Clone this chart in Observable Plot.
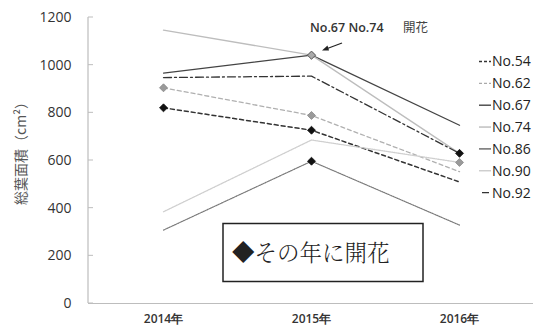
<!DOCTYPE html>
<html><head><meta charset="utf-8">
<script src="https://cdn.jsdelivr.net/npm/d3@7"></script>
<script src="https://cdn.jsdelivr.net/npm/@observablehq/plot@0.6"></script>
<style>body{margin:0;background:#fff} #chart svg{font-family:"Open Sans",sans-serif}</style>
</head><body><div id="chart"></div>
<script>
// ---- data ----
const years = ["2014年", "2015年", "2016年"];
const seriesNames = ["No.54", "No.62", "No.67", "No.74", "No.86", "No.90", "No.92"];
const no54 = [821, 727, 510];
const no62 = [905, 789, 553];
const no67 = [967, 1042, 748];
const no74 = [1147, 1042, 630];
const no86 = [308, 597, 329];
const no90 = [385, 686, 592];
const no92 = [948, 954, 630];
const flowerSeries = ["No.54", "No.54", "No.62", "No.62", "No.67", "No.74", "No.86", "No.90", "No.92"];
const flowerYears  = ["2014年", "2015年", "2014年", "2015年", "2015年", "2015年", "2015年", "2016年", "2016年"];
const yTicks = [0, 200, 400, 600, 800, 1000, 1200];
const yTitle = "総葉面積（cm²）";
const noteText = "No.67 No.74";
const noteText2 = "開花";
const boxText = "◆その年に開花";

// ---- styles ----
const seriesValues = {"No.54": no54, "No.62": no62, "No.67": no67, "No.74": no74, "No.86": no86, "No.90": no90, "No.92": no92};
const styles = {
  "No.54": {stroke: "#333", dash: "4,3", w: 1.5, fill: "#111", mstroke: "#111", leg: "3,2", lstroke: "#333"},
  "No.62": {stroke: "#b0b0b0", dash: "4,3", w: 1.3, fill: "#9a9a9a", mstroke: "#888", leg: "3,2", lstroke: "#aaa"},
  "No.67": {stroke: "#444", dash: null, w: 1.3, fill: "#555", mstroke: "#444", leg: null, lstroke: "#444"},
  "No.74": {stroke: "#bdbdbd", dash: null, w: 1.3, fill: "#aaa", mstroke: "#666", leg: null, lstroke: "#bbb"},
  "No.86": {stroke: "#7a7a7a", dash: "1,1", w: 1.2, fill: "#111", mstroke: "#111", leg: null, lstroke: "#666"},
  "No.90": {stroke: "#cfcfcf", dash: "1,1", w: 1.3, fill: "#9a9a9a", mstroke: "#888", leg: null, lstroke: "#ccc"},
  "No.92": {stroke: "#333", dash: "8,3,2,3", w: 1.3, fill: "#111", mstroke: "#111", leg: "0,3,7,3", lstroke: "#333"}
};

const rows = seriesNames.flatMap(s => years.map((yr, i) => ({series: s, year: yr, value: seriesValues[s][i]})));
const flowers = flowerSeries.map((s, i) => ({series: s, year: flowerYears[i], value: seriesValues[s][years.indexOf(flowerYears[i])]}));

const lineMarks = seriesNames.map(s => Plot.line(rows.filter(r => r.series === s), {
  x: "year", y: "value", stroke: styles[s].stroke, strokeWidth: styles[s].w,
  strokeDasharray: styles[s].dash || undefined
}));

const plot = Plot.plot({
  width: 543, height: 331,
  marginLeft: 88, marginRight: 10, marginTop: 17, marginBottom: 28,
  style: {fontFamily: "'Open Sans', sans-serif", background: "#fff"},
  x: {type: "point", domain: years, padding: 0.5, axis: null, label: null},
  y: {domain: [0, 1200], axis: null, label: null},
  color: {type: "identity"},
  marks: [
    Plot.ruleY([0], {stroke: "#bdbdbd", strokeWidth: 1.2}),
    Plot.axisY({ticks: yTicks, tickSize: 0, tickPadding: 17, fontSize: 14, fill: "#333", label: null, tickFormat: d => String(d)}),
    Plot.axisX({tickSize: 0, tickPadding: 11, fontSize: 12, fontWeight: 600, fill: "#333", label: null}),
    ...lineMarks,
    Plot.dot(flowers, {x: "year", y: "value", symbol: "diamond2", r: 3.6,
      fill: d => styles[d.series].fill, stroke: d => styles[d.series].mstroke, strokeWidth: 0.8})
  ]
});
document.getElementById("chart").appendChild(plot);

// ---- post-render decorations (axis line, ticks, legend, notes) ----
const svg = d3.select(plot);
const ys = plot.scale("y");
const y0 = ys.apply(0), y1 = ys.apply(1200);
svg.append("line").attr("x1", 88).attr("x2", 88).attr("y1", y1).attr("y2", y0)
  .attr("stroke", "#bdbdbd").attr("stroke-width", 1.2);
svg.append("g").selectAll("line").data(yTicks).join("line")
  .attr("x1", 88).attr("x2", 93).attr("y1", d => ys.apply(d)).attr("y2", d => ys.apply(d))
  .attr("stroke", "#bdbdbd").attr("stroke-width", 1);

svg.append("text").attr("transform", "translate(22,150) rotate(-90)")
  .attr("text-anchor", "middle").attr("dominant-baseline", "middle")
  .attr("font-size", 14).attr("fill", "#555")
  .attr("font-family", "'Noto Sans CJK JP','Open Sans',sans-serif").text(yTitle);

// legend
const lg = svg.append("g").attr("text-anchor", "start");
seriesNames.forEach((s, i) => {
  const y = 61.5 + i * 21.85;
  lg.append("line").attr("x1", 479).attr("x2", 491).attr("y1", y).attr("y2", y)
    .attr("stroke", styles[s].lstroke).attr("stroke-width", 1.4)
    .attr("stroke-dasharray", styles[s].leg);
  lg.append("text").attr("x", 492).attr("y", y).attr("dy", "0.35em")
    .attr("font-size", 14).attr("fill", "#222").text(s);
});

// annotation
const an = svg.append("g").attr("text-anchor", "start");
an.append("text").attr("x", 310).attr("y", 32).attr("font-size", 12.5).attr("font-weight", 600)
  .attr("fill", "#333").text(noteText);
an.append("text").attr("x", 403).attr("y", 32).attr("font-size", 12.5)
  .attr("font-family", "'Noto Sans CJK JP',sans-serif")
  .attr("fill", "#444").text(noteText2);
an.append("line").attr("x1", 342).attr("y1", 43).attr("x2", 326).attr("y2", 49)
  .attr("stroke", "#222").attr("stroke-width", 1.3);
an.append("path").attr("d", "M322,50.5 L327.5,45.5 L329,50.5 Z").attr("fill", "#222");

// box
an.append("rect").attr("x", 223).attr("y", 223.5).attr("width", 200).attr("height", 58)
  .attr("fill", "#fff").attr("stroke", "#222").attr("stroke-width", 1.5);
an.append("text").attr("x", 232).attr("y", 261).attr("font-size", 22.5).attr("font-weight", 300)
  .attr("font-family", "'Noto Serif CJK JP','Noto Sans CJK JP',sans-serif")
  .attr("fill", "#222").text(boxText);
</script>
</body></html>
